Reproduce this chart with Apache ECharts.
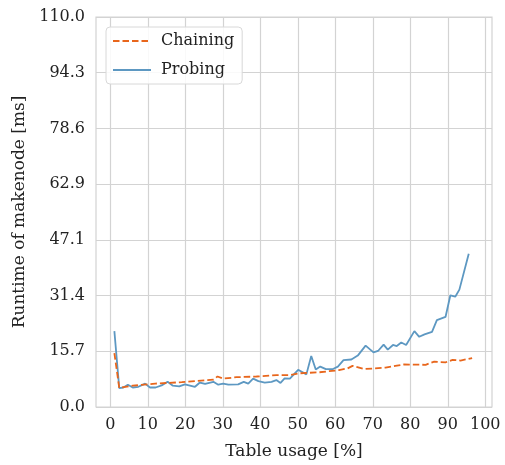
<!DOCTYPE html>
<html>
<head>
<meta charset="utf-8">
<script src="https://cdn.jsdelivr.net/npm/echarts@6/dist/echarts.min.js"></script>
<style>
  html, body { margin: 0; padding: 0; background: #fff; }
  #chart { width: 505px; height: 465px; }
</style>
</head>
<body>
<div id="chart"></div>
<script>
// table usage [%] and runtime [ms]
const probingX = [1.1, 2.4, 3.5, 4.7, 6.0, 7.5, 9.3, 10.6, 12.1, 13.7, 15.3, 16.7, 18.4, 19.9, 22.6, 23.9, 25.3, 27.5, 28.8, 30.1, 31.5, 34.1, 35.6, 36.8, 38.1, 39.5, 41.2, 43.0, 44.3, 45.4, 46.5, 47.9, 50.1, 52.3, 53.6, 54.8, 56.0, 57.5, 59.4, 60.7, 62.2, 64.3, 66.0, 68.1, 70.2, 71.4, 72.9, 74.0, 75.4, 76.4, 77.6, 78.9, 81.1, 82.4, 83.8, 85.8, 87.1, 89.4, 90.7, 92.0, 93.1, 95.6]
const probingY = [21.4, 5.3, 5.5, 6.3, 5.5, 5.7, 6.6, 5.5, 5.5, 6.1, 7.1, 6.0, 5.8, 6.4, 5.7, 6.9, 6.5, 7.1, 6.3, 6.6, 6.3, 6.4, 7.1, 6.6, 8.0, 7.3, 6.9, 7.1, 7.6, 6.8, 8.1, 8.0, 10.5, 9.2, 14.4, 10.6, 11.4, 10.7, 10.7, 11.4, 13.2, 13.4, 14.5, 17.3, 15.4, 15.8, 17.6, 16.2, 17.5, 17.2, 18.2, 17.5, 21.4, 19.8, 20.5, 21.2, 24.5, 25.4, 31.5, 31.1, 33.1, 43.2]

const chainingX = [1.1, 2.4, 6.0, 12.0, 19.1, 27.5, 28.6, 30.1, 33.7, 39.0, 44.3, 47.9, 50.4, 55.8, 61.0, 63.3, 64.6, 67.7, 73.4, 76.0, 78.3, 84.1, 86.4, 89.4, 91.3, 93.4, 96.5]
const chainingY = [15.2, 5.4, 6.0, 6.6, 7.0, 7.7, 8.6, 8.0, 8.4, 8.6, 9.0, 9.0, 9.5, 9.8, 10.4, 10.9, 11.6, 10.7, 11.1, 11.6, 12.0, 11.9, 12.8, 12.6, 13.3, 13.1, 13.8]

const xTicks = [0, 10, 20, 30, 40, 50, 60, 70, 80, 90, 100]
const yMax = 110
const yStep = yMax / 7

const font = 'DejaVu Serif'
const gridColor = '#d3d3d3'
const zip = (xs, ys) => xs.map((x, i) => [x, ys[i]])

const chart = echarts.init(document.getElementById('chart'), null, { renderer: 'canvas' })

const option = {
  animation: false,
  textStyle: { fontFamily: font },
  grid: { left: 96, right: 13, top: 17, bottom: 56, show: true, borderColor: gridColor, borderWidth: 1.2 },
  legend: {
    orient: 'vertical',
    left: 106,
    top: 27,
    itemWidth: 38,
    itemHeight: 14,
    itemGap: 13,
    padding: [6, 8, 6, 6],
    backgroundColor: 'rgba(255,255,255,0.85)',
    borderColor: '#d8d8d8',
    borderWidth: 1,
    borderRadius: 4,
    itemStyle: { opacity: 0 },
    textStyle: { fontFamily: font, fontSize: 16, color: '#222', padding: [0, 0, 0, 5] },
    data: ['Chaining', 'Probing'],
  },
  xAxis: {
    type: 'value',
    min: -3.8,
    max: 101.8,
    name: 'Table usage [%]',
    nameLocation: 'middle',
    nameGap: 36,
    nameTextStyle: { fontFamily: font, fontSize: 17, color: '#222' },
    axisLine: { show: false },
    axisTick: { show: false, customValues: xTicks },
    axisLabel: { fontFamily: font, fontSize: 16, color: '#222', margin: 10, customValues: xTicks },
    splitLine: { show: true, lineStyle: { color: gridColor, width: 1.2 } },
  },
  yAxis: {
    type: 'value',
    min: 0,
    max: yMax,
    interval: yStep,
    name: 'Runtime of makenode [ms]',
    nameLocation: 'middle',
    nameGap: 60,
    nameTextStyle: { fontFamily: font, fontSize: 17, color: '#222' },
    axisLine: { show: false },
    axisTick: { show: false },
    axisLabel: { fontFamily: font, fontSize: 16, color: '#222', margin: 11, formatter: (v) => v.toFixed(1) },
    splitLine: { show: true, lineStyle: { color: gridColor, width: 1.2 } },
  },
  series: [
    {
      name: 'Chaining',
      type: 'line',
      data: zip(chainingX, chainingY),
      symbol: 'none',
      color: '#e8661c',
      lineStyle: { width: 1.8, type: [6.5, 3], color: '#e8661c' },
      z: 3,
    },
    {
      name: 'Probing',
      type: 'line',
      data: zip(probingX, probingY),
      symbol: 'none',
      color: '#5d98c2',
      lineStyle: { width: 1.8, color: '#5d98c2' },
      z: 2,
    },
  ],
}

chart.setOption(option)
</script>
</body>
</html>
